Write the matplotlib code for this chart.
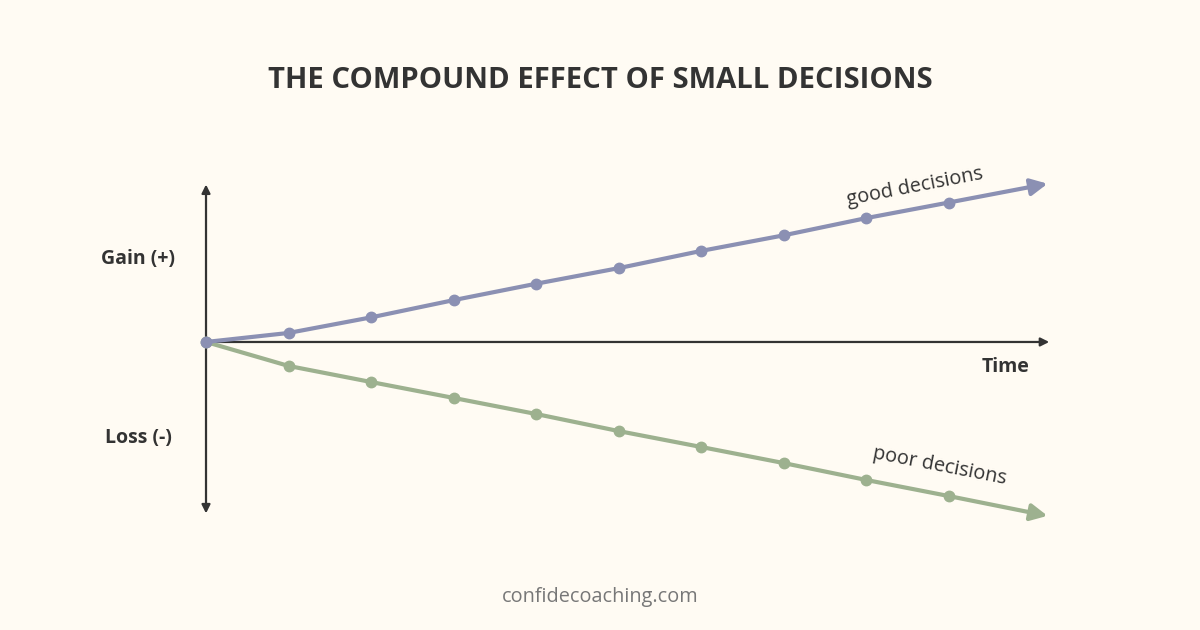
import numpy as np
import matplotlib.pyplot as plt

plt.rcParams['font.family'] = ['Open Sans', 'DejaVu Sans']

# data
steps = [0, 1, 2, 3, 4, 5, 6, 7, 8, 9]
good = [0, 0.55, 1.5, 2.55, 3.55, 4.5, 5.55, 6.5, 7.55, 8.5]
poor = [0, -1.46, -2.44, -3.41, -4.39, -5.43, -6.4, -7.38, -8.41, -9.39]
good_end = (10.2, 9.65)
poor_end = (10.2, -10.6)

bg = '#FFFBF3'
dark = '#333333'
c_good = '#8B90B3'
c_poor = '#9DB18F'

fig = plt.figure(figsize=(12, 6.3), dpi=100, facecolor=bg)
ax = fig.add_axes([0, 0, 1, 1])
ax.set_facecolor(bg)
ax.set_xlim(-2.497, 12.048)
ax.set_ylim(-17.56, 20.85)
ax.axis('off')

# axes with arrows
ax.annotate('', xy=(0, 9.6), xytext=(0, -10.45),
            arrowprops=dict(arrowstyle='<|-|>,head_length=0.5,head_width=0.25',
                            color=dark, lw=1.6, shrinkA=0, shrinkB=0))
ax.annotate('', xy=(10.22, 0), xytext=(0, 0),
            arrowprops=dict(arrowstyle='-|>,head_length=0.5,head_width=0.25',
                            color=dark, lw=1.6, shrinkA=0, shrinkB=0))

# series
for vals, end, col in [(poor, poor_end, c_poor), (good, good_end, c_good)]:
    ax.plot(steps, vals, color=col, lw=3, marker='o', ms=7.5,
            solid_capstyle='round', zorder=3)
    ax.annotate('', xy=end, xytext=(steps[-1], vals[-1]),
                arrowprops=dict(arrowstyle='-|>,head_length=1.0,head_width=0.5',
                                color=col, lw=3, shrinkA=0, shrinkB=0), zorder=3)

# text
fig.text(0.5, 1 - 80 / 630, 'THE COMPOUND EFFECT OF SMALL DECISIONS',
         ha='center', va='center', fontsize=21.1, fontweight='bold', color=dark)
fig.text(138 / 1200, 1 - 259 / 630, 'Gain (+)', ha='center', va='center',
         fontsize=14, fontweight='bold', color=dark)
fig.text(138 / 1200, 1 - 438 / 630, 'Loss (-)', ha='center', va='center',
         fontsize=14, fontweight='bold', color=dark)
fig.text(1029 / 1200, 1 - 367 / 630, 'Time', ha='right', va='center',
         fontsize=14, fontweight='bold', color=dark)
fig.text(915 / 1200, 1 - 187 / 630, 'good decisions', ha='center', va='center',
         fontsize=14.3, rotation=11, color=dark, rotation_mode='anchor')
fig.text(940 / 1200, 1 - 466 / 630, 'poor decisions', ha='center', va='center',
         fontsize=14.3, rotation=-11, color=dark, rotation_mode='anchor')
fig.text(0.5, 1 - 597 / 630, 'confidecoaching.com', ha='center', va='center',
         fontsize=14.3, color='#777777')

fig.savefig('out.png', dpi=100, facecolor=bg)
